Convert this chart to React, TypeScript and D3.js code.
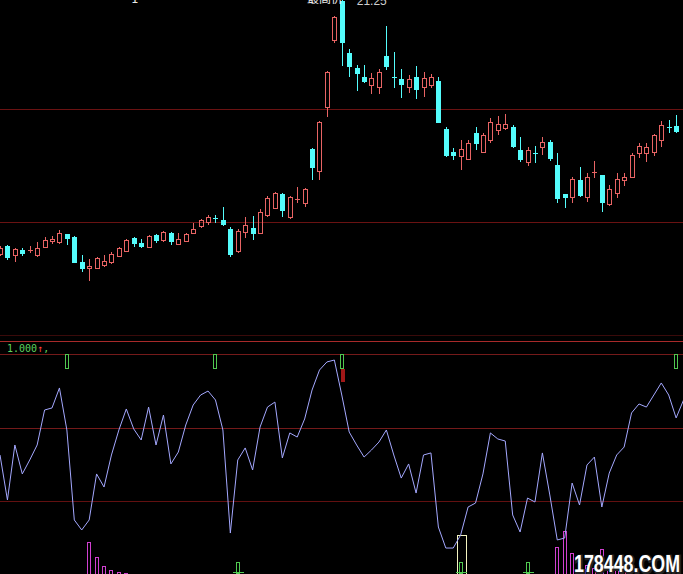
import React from 'react';
import * as d3 from 'd3';

// K-line data, one entry per trading day (index 0..91)
const opens = [
  14.90, 15.10, 14.88, 15.00, 14.98, 14.88, 15.08, 15.23, 15.20, 15.40,
  15.33, 14.70, 14.55, 14.55, 14.63, 14.70, 14.85, 14.98, 15.30, 15.18,
  15.08, 15.38, 15.25, 15.43, 15.15, 15.23, 15.43, 15.60, 15.70, 15.80,
  15.75, 15.53, 14.98, 15.45, 15.55, 15.43, 15.88, 16.05, 16.40, 15.83,
  16.25, 16.18, 17.53, 16.98, 18.58, 20.25, 21.22, 19.93, 19.55, 19.33,
  19.13, 19.08, 19.85, 19.33, 19.28, 19.08, 19.33, 19.08, 19.13, 19.23,
  18.03, 17.45, 17.35, 17.28, 17.93, 17.45, 17.75, 18.00, 18.05, 18.08,
  17.50, 17.20, 17.43, 17.58, 17.70, 17.13, 16.40, 16.33, 16.75, 16.33,
  16.93, 16.88, 16.15, 16.43, 16.75, 16.83, 17.43, 17.43, 17.45, 17.75,
  18.08, 18.10,
];
const highs = [
  15.10, 15.13, 15.05, 15.05, 15.10, 15.20, 15.33, 15.35, 15.50, 15.40,
  15.35, 14.88, 14.78, 14.83, 14.88, 14.95, 15.08, 15.28, 15.33, 15.28,
  15.38, 15.40, 15.48, 15.45, 15.43, 15.43, 15.68, 15.78, 15.88, 15.88,
  16.08, 15.58, 15.53, 15.83, 15.85, 16.03, 16.35, 16.45, 16.43, 16.35,
  16.58, 16.55, 17.55, 18.23, 19.48, 20.85, 21.25, 20.03, 19.63, 19.63,
  19.43, 19.53, 20.60, 19.95, 19.53, 19.38, 19.60, 19.45, 19.40, 19.33,
  18.08, 17.55, 17.75, 17.75, 18.08, 17.93, 18.30, 18.35, 18.40, 18.13,
  17.83, 17.58, 17.60, 17.83, 17.75, 17.43, 16.40, 16.83, 17.08, 16.93,
  17.23, 16.88, 16.63, 16.93, 16.93, 17.43, 17.68, 17.68, 17.90, 18.23,
  18.25, 18.38,
];
const lows = [
  14.85, 14.75, 14.70, 14.85, 14.93, 14.83, 15.05, 15.15, 15.15, 15.13,
  14.68, 14.45, 14.23, 14.53, 14.58, 14.65, 14.83, 14.95, 15.08, 15.05,
  15.05, 15.18, 15.20, 15.13, 15.13, 15.20, 15.40, 15.55, 15.63, 15.68,
  15.60, 14.83, 14.93, 15.30, 15.25, 15.40, 15.83, 16.03, 15.83, 15.78,
  16.18, 16.08, 16.75, 16.75, 18.33, 20.18, 19.60, 19.33, 18.98, 19.18,
  18.90, 18.90, 19.50, 19.05, 18.80, 18.93, 18.78, 18.83, 19.05, 18.18,
  17.33, 17.25, 17.00, 17.25, 17.50, 17.43, 17.68, 17.88, 18.00, 17.55,
  17.20, 17.10, 17.18, 17.38, 17.23, 16.18, 16.05, 16.18, 16.33, 16.20,
  16.80, 15.95, 16.10, 16.30, 16.60, 16.80, 17.30, 17.20, 17.35, 17.58,
  17.93, 17.93,
];
const closes = [
  15.05, 14.80, 15.03, 14.90, 15.00, 15.05, 15.25, 15.28, 15.43, 15.28,
  14.68, 14.53, 14.60, 14.80, 14.73, 14.90, 15.05, 15.25, 15.15, 15.08,
  15.35, 15.23, 15.45, 15.20, 15.28, 15.40, 15.53, 15.75, 15.83, 15.78,
  15.63, 14.88, 15.48, 15.63, 15.40, 15.95, 16.30, 16.43, 15.98, 16.33,
  16.28, 16.53, 17.05, 18.20, 19.45, 20.83, 20.18, 19.58, 19.40, 19.20,
  19.30, 19.45, 19.58, 19.30, 19.13, 19.28, 19.00, 19.30, 19.33, 18.18,
  17.35, 17.35, 17.53, 17.68, 17.65, 17.88, 18.20, 18.15, 18.15, 17.58,
  17.25, 17.50, 17.40, 17.70, 17.28, 16.28, 16.30, 16.78, 16.35, 16.83,
  16.95, 16.18, 16.53, 16.78, 16.83, 17.38, 17.60, 17.58, 17.88, 18.13,
  18.05, 17.95,
];
const priceGrid = [18.53, 15.70];

// indicator line (index 0..92)
const indicator = [
  31.3, 0.7, 38.1, 18.4, 27.9, 38.1, 61.9, 63.3, 76.9, 48.3,
  -12.9, -19.7, -12.9, 18.4, 9.5, 31.3, 48.3, 62.6, 49.0, 41.5,
  63.9, 38.1, 58.5, 25.2, 33.3, 51.7, 65.3, 72.1, 74.8, 68.7,
  48.3, -21.8, 27.9, 36.1, 21.1, 50.3, 63.9, 67.3, 29.3, 46.3,
  43.5, 55.8, 75.5, 89.1, 94.6, 95.9, 72.1, 46.9, 38.1, 29.9,
  34.7, 40.1, 48.3, 31.3, 15.6, 25.2, 5.4, 31.3, 32.7, -17.7,
  -32.0, -32.0, -23.1, -4.1, -1.4, 18.4, 46.3, 42.2, 40.8, -9.5,
  -21.1, 2.0, -0.7, 32.7, 4.1, -26.5, -25.2, 12.2, -2.7, 24.5,
  29.9, -4.1, 19.0, 31.3, 36.7, 59.9, 66.0, 63.9, 72.1, 80.3,
  72.1, 56.5, 68.7,
];
const indicatorGrid = [100, 50, 0];

const barIndex = [12, 13, 14, 15, 16, 17, 75, 76, 77, 78, 79, 80, 81, 82, 83, 84];
const barValue = [33, 18, 9, 5, 3, 2, 28, 44, 22, 12, 10, 7, 26, 15, 10, 5];

const topSignals = [9, 29, 46, 91];
const topSignalsRed = [46];
const bottomSignals = [32, 62, 71];
const boxSignals = [62];

const W = 683;
const H = 574;

export default function App() {
  const x = d3.scaleLinear().domain([0, 92]).range([0, 92 * 7.43]);
  const y = d3.scaleLinear().domain([21.25, 12.875]).range([0, 335]);
  const yi = d3.scaleLinear().domain([100, 0]).range([354, 501]);
  const yb = d3.scaleLinear().domain([0, 50]).range([575, 525]);
  const cx = (i: number) => Math.round(x(i));

  const line = d3.line<number>()
    .x((d, i) => x(i))
    .y(d => yi(d));

  const maxIdx = d3.maxIndex(highs);
  const fmt = d3.format('.2f');

  const red = '#e86464';
  const cyan = '#54fcfc';

  return (
    <svg width={W} height={H} style={{ position: 'fixed', left: 0, top: 0, display: 'block', background: '#000' }}
      fontFamily="'DejaVu Sans Mono', monospace">
      <rect x={0} y={0} width={W} height={H} fill="#000" />

      {/* price grid */}
      {priceGrid.map(p => (
        <line key={p} x1={0} x2={W} y1={Math.round(y(p)) + 0.5} y2={Math.round(y(p)) + 0.5} stroke="#6a1212" />
      ))}
      <line x1={0} x2={W} y1={335.5} y2={335.5} stroke="#3a0a0a" />
      <line x1={0} x2={W} y1={341.5} y2={341.5} stroke="#a82a2a" />

      {/* candles */}
      {opens.map((o, i) => {
        const c = closes[i];
        const up = c >= o;
        const top = Math.round(y(Math.max(o, c)));
        const bot = Math.round(y(Math.min(o, c)));
        const hy = Math.round(y(highs[i]));
        const ly = Math.round(y(lows[i]));
        const xc = cx(i);
        if (up) {
          const h = Math.max(bot - top, 1);
          return (
            <g key={i} stroke={red} fill="none">
              {hy < top && <line x1={xc + 0.5} x2={xc + 0.5} y1={hy} y2={top} />}
              {ly > top + h && <line x1={xc + 0.5} x2={xc + 0.5} y1={top + h} y2={ly} />}
              {bot - top <= 1
                ? <line x1={xc - 2} x2={xc + 3} y1={top + 0.5} y2={top + 0.5} />
                : <rect x={xc - 1.5} y={top + 0.5} width={4} height={h} />}
            </g>
          );
        }
        return (
          <g key={i}>
            <line x1={xc + 0.5} x2={xc + 0.5} y1={hy} y2={ly} stroke={cyan} />
            <rect x={xc - 2} y={top} width={5} height={Math.max(bot - top, 1)} fill={cyan} />
          </g>
        );
      })}

      {/* top labels, cut off by the window edge as in the source */}
      <text x={131} y={3} fontSize={12} fill="#e8e8e8">1</text>
      <text x={307} y={3} fontSize={12} fill="#e8e8e8" fontFamily="'Noto Sans CJK SC', sans-serif">最高价</text>
      <text x={x(maxIdx) + 15} y={5} fontSize={12} fill="#cfcfcf" fontFamily="'Liberation Sans', sans-serif">{fmt(highs[maxIdx])}</text>
      <text x={473} y={3} fontSize={12} fill="#e8e8e8">*</text>

      {/* indicator panel grid */}
      {indicatorGrid.map(v => (
        <line key={v} x1={0} x2={W} y1={Math.round(yi(v)) + 0.5} y2={Math.round(yi(v)) + 0.5}
          stroke={v === 0 ? '#621010' : '#741a1a'} />
      ))}

      <text x={7} y={352} fontSize={10}>
        <tspan fill="#5fd25f">1.000</tspan>
        <tspan fill="#ff4040">↑</tspan>
        <tspan fill="#5fd25f">,</tspan>
      </text>

      {/* magenta bars */}
      {barIndex.map((bi, k) => {
        const top = Math.round(yb(barValue[k]));
        return (
          <rect key={bi} x={cx(bi) - 1.5} y={top + 0.5} width={3} height={H - top + 2}
            fill="none" stroke="#d040d0" />
        );
      })}

      {/* box highlight */}
      {boxSignals.map(bi => {
        const top = Math.round(yi(indicator[bi]));
        return (
          <rect key={bi} x={cx(bi) - 3.5} y={top + 0.5} width={9} height={H - top + 2}
            fill="none" stroke="#f4f4c0" />
        );
      })}

      {/* indicator line */}
      <path d={line(indicator) || ''} fill="none" stroke="#a4a8ff" strokeWidth={1} />

      {/* signals at top of indicator panel */}
      {topSignalsRed.map(si => (
        <rect key={'r' + si} x={cx(si) - 1} y={369} width={4} height={13} fill="#a01818" />
      ))}
      {topSignals.map(si => (
        <rect key={si} x={cx(si) - 1.5} y={354.5} width={3} height={14} fill="none" stroke="#50c850" />
      ))}

      {/* signals at bottom */}
      {bottomSignals.map(si => (
        <g key={si} stroke="#50c850" fill="none">
          <rect x={cx(si) - 1.5} y={562.5} width={3} height={11} />
          <line x1={cx(si) - 5} x2={cx(si) + 6} y1={572.5} y2={572.5} />
        </g>
      ))}

      {/* watermark */}
      <text x={575} y={573} fontSize={23} fontWeight="bold" fontFamily="'Liberation Sans', Arial, sans-serif"
        textLength={106} lengthAdjust="spacingAndGlyphs" fill="#222" stroke="#222" strokeWidth={3}>178448.COM</text>
      <text x={574} y={572} fontSize={23} fontWeight="bold" fontFamily="'Liberation Sans', Arial, sans-serif"
        textLength={106} lengthAdjust="spacingAndGlyphs" fill="#ffffff">178448.COM</text>
    </svg>
  );
}
